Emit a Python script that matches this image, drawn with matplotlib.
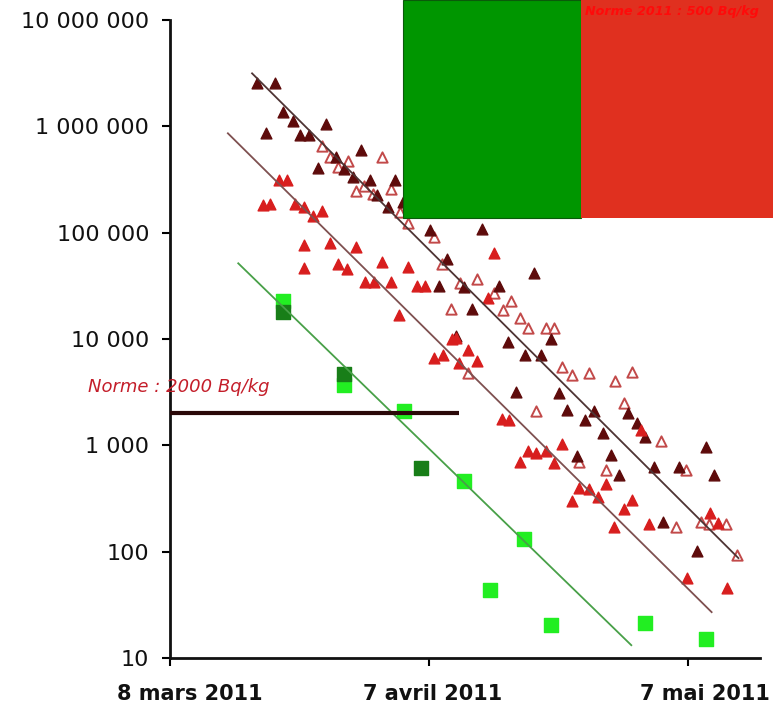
import matplotlib
matplotlib.use("Agg")
import matplotlib.pyplot as plt
import matplotlib.transforms as mtransforms
from matplotlib.patches import Rectangle
from matplotlib.ticker import FixedLocator, NullLocator

plt.rcParams['font.family'] = ['DejaVu Sans']

# days counted from 8 March 2011, activity in Bq/kg
dark_days = [10.1, 12.2, 13.1, 14.2, 11.1, 15.1, 16.1, 18.1, 17.1, 19.2, 22.1, 20.1,
             21.2, 23.1, 24.0, 25.2, 26.1, 27.0, 30.1, 36.1, 32.1, 42.1, 31.1, 34.0,
             38.1, 35.0, 44.1, 39.1, 41.1, 43.0, 40.0, 45.0, 46.0, 49.1, 48.0, 50.1,
             53.0, 54.1, 55.0, 62.0, 47.1, 51.0, 56.0, 58.9, 52.0, 63.0, 57.1, 61.0,
             33.1]
dark_values = [2.55e6, 2.55e6, 1.36e6, 1.12e6, 8.65e5, 8.2e5, 8.2e5, 1.06e6, 4.1e5, 5.15e5,
               5.95e5, 4.0e5, 3.35e5, 3.1e5, 2.25e5, 1.75e5, 3.1e5, 1.95e5, 1.07e5, 1.09e5,
               5.7e4, 4.2e4, 3.15e4, 3.1e4, 3.15e4, 1.9e4, 9900, 9400, 7050, 7050,
               3180, 3080, 2170, 2110, 1730, 1310, 2000, 1630, 1200, 955,
               790, 810, 630, 630, 525, 525, 191, 102, 10600]

open_days = [17.6, 18.5, 19.5, 20.6, 21.5, 22.5, 23.5, 24.5, 25.6, 26.6, 27.5, 30.6,
             31.5, 33.6, 35.5, 37.5, 39.5, 32.5, 38.5, 40.5, 41.5, 43.5, 44.5, 34.5,
             45.4, 46.5, 48.5, 51.5, 53.5, 42.4, 52.5, 56.8, 50.5, 59.7, 47.4, 58.6,
             61.5, 62.4, 64.4, 65.6]
open_values = [6.6e5, 5.1e5, 4.15e5, 4.7e5, 2.45e5, 2.73e5, 2.33e5, 5.15e5, 2.6e5, 1.57e5,
               1.22e5, 9.1e4, 5.05e4, 3.37e4, 3.7e4, 2.68e4, 2.3e4, 1.9e4, 1.87e4, 1.56e4,
               1.27e4, 1.26e4, 1.26e4, 4800, 5400, 4570, 4800, 4040, 4900, 2110,
               2510, 1100, 585, 585, 700, 169, 191, 182, 182, 93]

red_days = [12.6, 13.6, 10.8, 11.6, 14.5, 15.5, 16.6, 17.6, 15.5, 18.5, 21.5, 15.5,
            19.5, 20.5, 24.5, 27.5, 22.6, 23.6, 25.6, 28.6, 29.5, 26.5, 37.5, 36.8,
            32.6, 34.5, 30.6, 31.6, 33.5, 35.5, 38.4, 39.3, 45.4, 41.5, 42.4, 43.5,
            40.5, 44.5, 54.5, 47.4, 48.5, 50.5, 49.6, 46.5, 53.5, 52.5, 51.4, 55.4,
            62.5, 63.4, 59.8, 64.5, 33.1]
red_values = [3.1e5, 3.1e5, 1.81e5, 1.85e5, 1.85e5, 1.73e5, 1.43e5, 1.59e5, 7.6e4, 7.95e4,
              7.3e4, 4.7e4, 5.1e4, 4.6e4, 5.3e4, 4.8e4, 3.4e4, 3.4e4, 3.44e4, 3.15e4,
              3.15e4, 1.67e4, 6.4e4, 2.45e4, 9950, 7850, 6560, 7050, 5960, 6220,
              1760, 1730, 1040, 890, 840, 890, 700, 685, 1390, 394,
              385, 432, 324, 301, 305, 250, 169, 182, 229, 187, 57, 46, 10200]

green_days = [13.1, 20.2, 27.1, 34.0, 41.0, 37.0, 44.1, 55.0, 62.0]
green_values = [2.3e4, 3680, 2100, 464, 131, 43.5, 20.4, 21.2, 15.2]

dkgreen_days = [13.1, 20.2, 29.1]
dkgreen_values = [1.8e4, 4670, 607]

# exponential fits (straight on the log axis)
fit_dark_days = [9.5, 65.8]
fit_dark_values = [3.15e6, 87]
fit_red_days = [6.7, 62.7]
fit_red_values = [8.6e5, 27]
fit_green_days = [7.9, 53.4]
fit_green_values = [51500, 13.2]

norm_days = [0, 33.4]
norm_value = 2000

xtick_days = [0, 30, 60]
xtick_labels = ['8 mars 2011', '7 avril 2011', '7 mai 2011']
ytick_values = [10, 100, 1000, 10000, 100000, 1000000, 10000000]
ytick_labels = ['10', '100', '1 000', '10 000', '100 000', '1 000 000', '10 000 000']

fig = plt.figure(figsize=(7.73, 7.10), dpi=100)
ax = fig.add_axes([170 / 773, 52 / 710, 590 / 773, 638 / 710])
ax.set_yscale('log')
ax.set_xlim(0, 68.3)
ax.set_ylim(10, 1e7)

# fitted decay lines
ax.plot(fit_dark_days, fit_dark_values, color='#4e3434', lw=1.3, zorder=4)
ax.plot(fit_red_days, fit_red_values, color='#7e5050', lw=1.3, zorder=4)
ax.plot(fit_green_days, fit_green_values, color='#48a048', lw=1.3, zorder=4)

# measurements
ax.scatter(open_days, open_values, marker='^', s=55, facecolor='white',
           edgecolor='#c24a4a', linewidth=1.4, zorder=3)
ax.scatter(dark_days, dark_values, marker='^', s=60, color='#5e0b0b', zorder=3)
ax.scatter(red_days, red_values, marker='^', s=60, color='#d81e1e', zorder=3)
ax.scatter(green_days, green_values, marker='s', s=95, color='#22ee22', zorder=3)
ax.scatter(dkgreen_days, dkgreen_values, marker='s', s=95, color='#187e18', zorder=3)

# 2000 Bq/kg limit
ax.plot(norm_days, [norm_value, norm_value], color='#2a0808', lw=3, solid_capstyle='butt',
        zorder=5)
ax.text(-9.5, 3200, 'Norme : 2000 Bq/kg', color='#c41e2a', fontsize=13, style='italic',
        va='baseline', ha='left', clip_on=False)

# axes styling
for side in ['top', 'right']:
    ax.spines[side].set_visible(False)
for side in ['left', 'bottom']:
    ax.spines[side].set_linewidth(2)
    ax.spines[side].set_color('#111111')

ax.yaxis.set_major_locator(FixedLocator(ytick_values))
ax.yaxis.set_minor_locator(NullLocator())
ax.set_yticklabels(ytick_labels)
ax.tick_params(axis='y', direction='out', length=6, width=1.5, pad=9,
               labelsize=16, labelcolor='#111111')

ax.set_xticks(xtick_days)
ax.set_xticklabels(xtick_labels, fontweight='bold')
ax.tick_params(axis='x', direction='out', length=6, width=1.5, pad=13,
               labelsize=15, labelcolor='#111111')
# shift the date labels a little to the right
for lab, dx in zip(ax.get_xticklabels(), [20, 3, 17]):
    lab.set_transform(lab.get_transform() +
                      mtransforms.ScaledTranslation(dx / 100, 0, fig.dpi_scale_trans))

# colour blocks at the top
fig.add_artist(Rectangle((403 / 773, 1 - 218 / 710), 178 / 773, 218 / 710,
                         transform=fig.transFigure, facecolor='#009600',
                         edgecolor='#0b5a0b', linewidth=0.8, zorder=10))
fig.add_artist(Rectangle((581 / 773, 1 - 218 / 710), 200 / 773, 218 / 710,
                         transform=fig.transFigure, facecolor='#e0301f',
                         edgecolor='none', zorder=10))
fig.text(585 / 773, 1 - 5 / 710, 'Norme 2011 : 500 Bq/kg', color='#ff0a0a', fontsize=9.2,
         fontweight='bold', style='italic', va='top', ha='left', zorder=11)

fig.savefig('out.png', dpi=100)
